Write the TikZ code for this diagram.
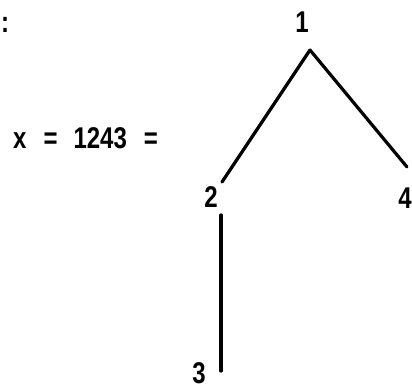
\documentclass[tikz,border=0pt]{standalone}
\usepackage{fontspec}
\setmainfont{Liberation Sans}[FakeStretch=0.8]
\begin{document}
\begin{tikzpicture}[x=1pt,y=-1pt,
  lbl/.style={font=\bfseries\fontsize{30}{32}\selectfont, inner sep=0pt, anchor=base},
  edge/.style={line width=3.2pt, line cap=round}]
\useasboundingbox (0,0) rectangle (412,388);
\node[lbl, anchor=base west] (colon) at (1,32) {:};
\node[lbl, anchor=base west] (eq) at (13,148) {x\hspace{17pt}=\hspace{16pt}1243\hspace{17pt}=};
\node[lbl] (n1) at (302,32) {1};
\node[lbl] (n2) at (211,207) {2};
\node[lbl] (n3) at (199,383) {3};
\node[lbl, anchor=base east] (n4) at (412,208) {4};
\coordinate (apex) at (310,50);
\coordinate (l2) at (222,182);
\coordinate (r4) at (407,167);
\coordinate (t2) at (221,215);
\coordinate (b3) at (221,371);
\draw[edge] (apex) -- (l2);
\draw[edge] (apex) -- (r4);
\draw[edge] (t2) -- (b3);
\end{tikzpicture}
\end{document}
